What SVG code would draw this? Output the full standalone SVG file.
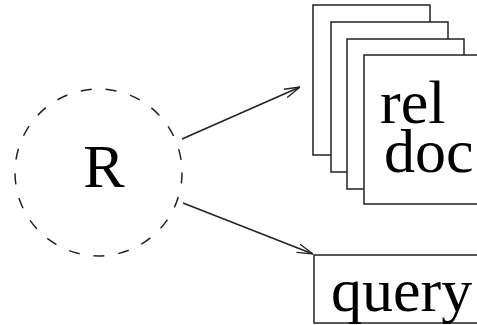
<svg xmlns="http://www.w3.org/2000/svg" width="477" height="325" viewBox="0 0 477 325">
<defs>
<style>
.t{font-family:"Liberation Serif","Times New Roman",serif;font-size:62px;fill:#000}
.box{fill:#fff;stroke:#222;stroke-width:1.5}
.c{fill:none;stroke:#222;stroke-width:1.5}
</style>
<marker id="ah" viewBox="0 0 16 10" refX="16" refY="5" markerWidth="16" markerHeight="10" markerUnits="userSpaceOnUse" orient="auto">
<path d="M0,0.5 L16,5 L0,9.5" fill="none" stroke="#222" stroke-width="1.3"/>
</marker>
</defs>
<rect width="477" height="325" fill="#fff"/>
<g id="R">
<circle cx="98.5" cy="172.5" r="83.5" fill="none" stroke="#222" stroke-width="1.5" stroke-dasharray="11 14"/>
<text class="t" x="104" y="187" text-anchor="middle">R</text>
</g>
<g id="reldoc">
<rect class="box" x="313" y="5" width="117" height="150"/>
<rect class="box" x="331" y="22" width="117" height="150"/>
<rect class="box" x="347" y="39" width="117" height="150"/>
<rect class="box" x="364" y="55" width="130" height="149"/>
<text class="t" x="380" y="123">rel</text>
<text class="t" x="384" y="172">doc</text>
</g>
<g id="query">
<rect class="box" x="314" y="255" width="180" height="68"/>
<text class="t" x="331" y="311">query</text>
</g>
<g id="connectors">
<line class="c" x1="182" y1="139" x2="300" y2="87" marker-end="url(#ah)"/>
<line class="c" x1="183" y1="203" x2="313" y2="254" marker-end="url(#ah)"/>
</g>
</svg>
